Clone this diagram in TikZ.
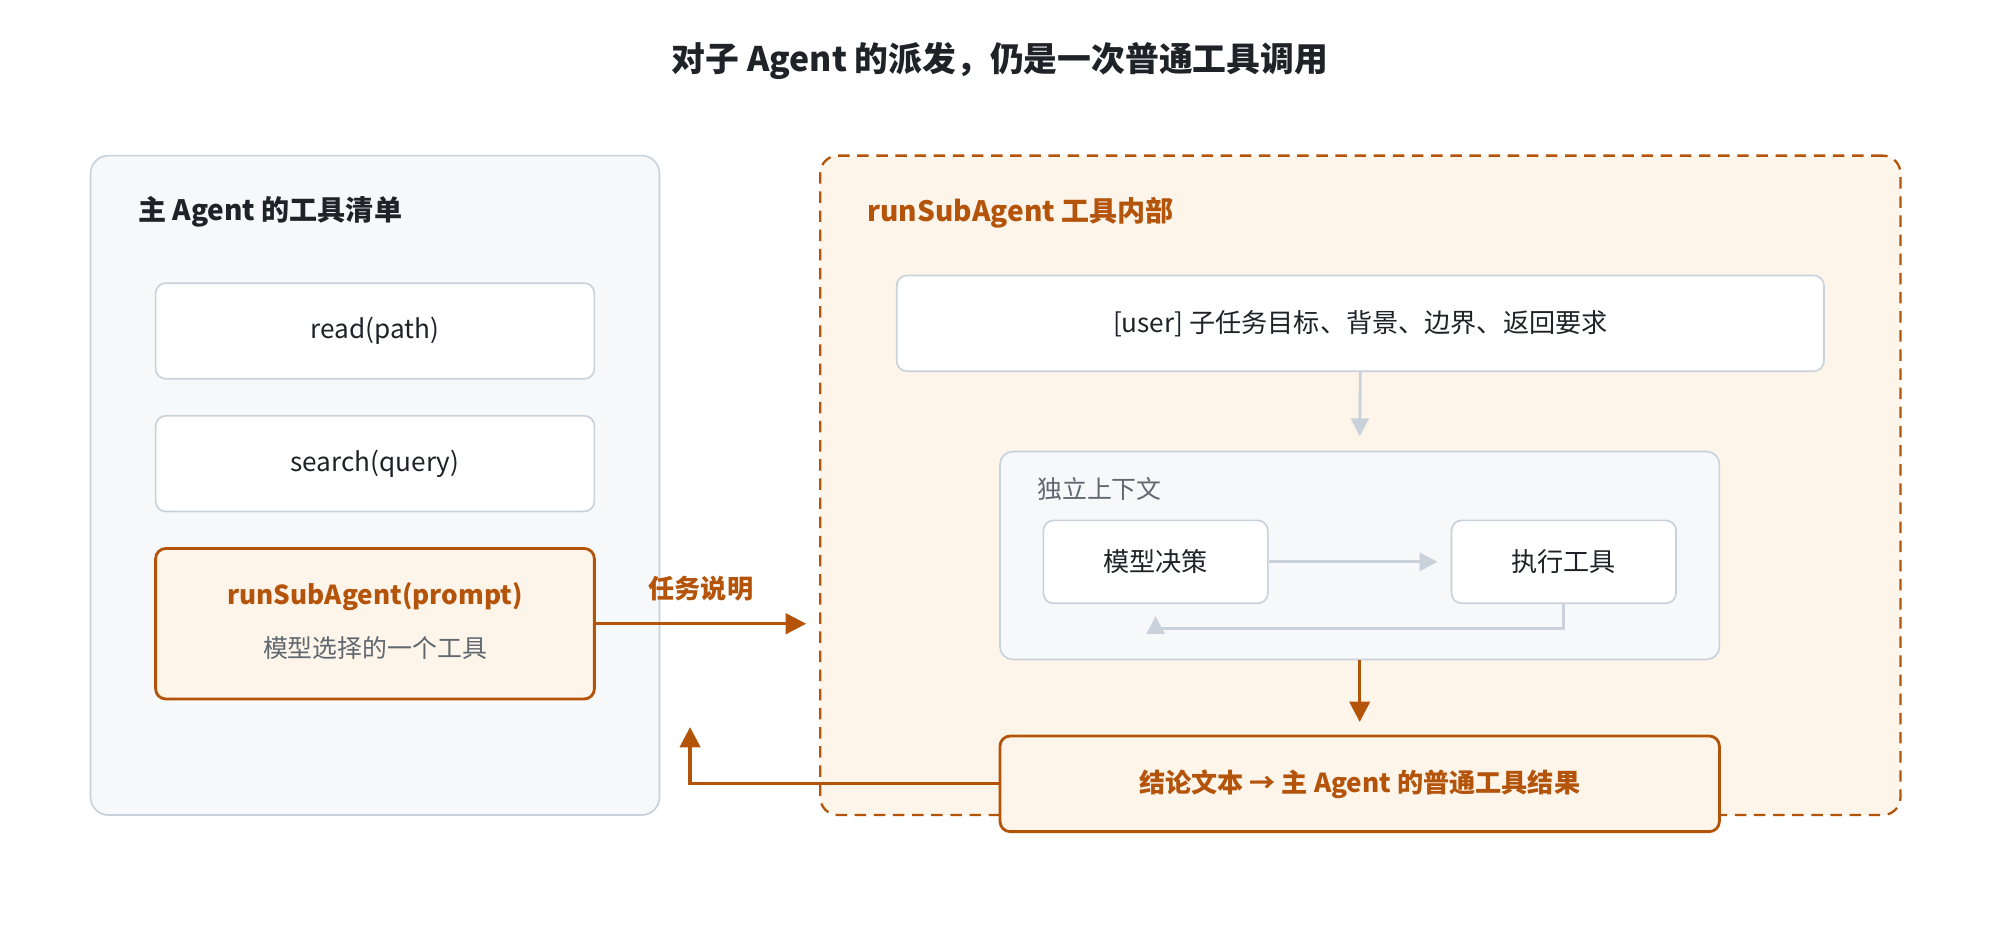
\documentclass[tikz,border=0pt]{standalone}
\usepackage{fontspec}
\setmainfont{Noto Sans CJK SC}
\usetikzlibrary{arrows.meta}
\definecolor{org}{HTML}{B4540A}
\definecolor{gstroke}{HTML}{C9D1DB}
\definecolor{gfill}{HTML}{F6F8FA}
\definecolor{ofill}{HTML}{FDF5EA}
\definecolor{txt}{HTML}{1F2328}
\definecolor{gtxt}{HTML}{5F6770}
\begin{document}
\begin{tikzpicture}[x=1pt,y=-1pt,
  box/.style={draw=gstroke,line width=1.3pt,fill=white,rounded corners=8pt,inner sep=0pt,text=txt,font=\fontsize{20.5}{24}\selectfont},
  obox/.style={draw=org,line width=2.2pt,fill=ofill,rounded corners=8pt,inner sep=0pt},
  panel/.style={draw=gstroke,line width=1.3pt,fill=gfill,rounded corners=14pt,inner sep=0pt},
  garrow/.style={draw=gstroke,line width=2.2pt,-{Triangle[length=14pt,width=14pt]}},
  oarrow/.style={draw=org,line width=2.6pt,-{Triangle[length=16pt,width=16pt]}},
  lbl/.style={font=\fontsize{22}{26}\selectfont\bfseries,anchor=west,inner sep=0pt}]
\useasboundingbox (0,0) rectangle (1568,737);
\node[font=\fontsize{26.5}{31}\selectfont\bfseries,text=txt] (title) at (784,48) {对子 Agent 的派发，仍是一次普通工具调用};
% left panel
\node[panel,minimum width=446pt,minimum height=517pt] (left) at (294,380.5) {};
\node[lbl,text=txt] (ltitle) at (108,166) {主 Agent 的工具清单};
\node[box,minimum width=344pt,minimum height=75pt] (read) at (294,259.5) {read(path)};
\node[box,minimum width=344pt,minimum height=75pt] (search) at (294,363.5) {search(query)};
\node[obox,minimum width=344pt,minimum height=118pt] (rsa) at (294,489) {};
\node[font=\fontsize{20.5}{24}\selectfont\bfseries,text=org] (rsat) at (294,468) {runSubAgent(prompt)};
\node[font=\fontsize{19.5}{23}\selectfont,text=gtxt] (rsas) at (294,508) {模型选择的一个工具};
% right panel
\node[draw=org,dashed,dash pattern=on 9pt off 6pt,line width=1.8pt,fill=ofill,rounded corners=14pt,minimum width=847pt,minimum height=517pt,inner sep=0pt] (right) at (1066.5,380.5) {};
\node[lbl,text=org] (rtitle) at (680,167) {runSubAgent 工具内部};
\node[box,minimum width=727pt,minimum height=75pt] (user) at (1066.5,253.5) {[user] 子任务目标、背景、边界、返回要求};
\node[panel,rounded corners=10pt,minimum width=564pt,minimum height=163pt] (ctx) at (1066,435.5) {};
\node[font=\fontsize{19.5}{23}\selectfont,text=gtxt,anchor=west,inner sep=0pt] (ctxt) at (813,383) {独立上下文};
\node[box,minimum width=176pt,minimum height=65pt] (model) at (906,440.5) {模型决策};
\node[box,minimum width=176pt,minimum height=65pt] (exec) at (1226,440.5) {执行工具};
\node[obox,minimum width=564pt,minimum height=75pt,font=\fontsize{20.5}{24}\selectfont\bfseries,text=org] (res) at (1066,614.5) {结论文本 → 主 Agent 的普通工具结果};
% arrows
\coordinate (a1) at (632,489);
\draw[oarrow] (rsa.east |- a1) -- (a1) node[midway,above=13pt,font=\fontsize{20.5}{24}\selectfont\bfseries,text=org] {任务说明};
\coordinate (u2) at (1066,342);
\draw[garrow] (user.south) -- (u2);
\coordinate (m2) at (1127,440.5);
\draw[garrow] (model.east) -- (m2);
\coordinate (l1) at (1226,493);
\coordinate (l2) at (906,493);
\coordinate (l3) at (906,483);
\draw[draw=gstroke,line width=2.2pt] (exec.south) -- (l1) -- (l2);
\draw[garrow] (l2) -- (l3);
\coordinate (c2) at (1066,566);
\draw[oarrow] (ctx.south) -- (c2);
\coordinate (r1) at (541,614.5);
\coordinate (r2) at (541,570);
\draw[oarrow] (res.west) -- (r1) -- (r2);
\end{tikzpicture}
\end{document}
